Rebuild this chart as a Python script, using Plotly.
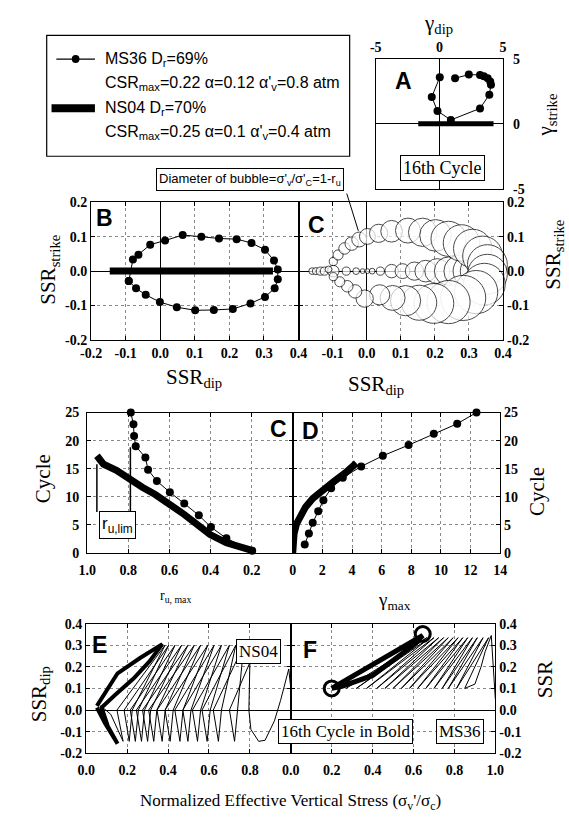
import plotly.graph_objects as go

W, H = 569, 828
SERIF = "Liberation Serif"
SANS = "Liberation Sans"

# ---------------- data ----------------
# Panel A: 16th cycle shear strain path (%)
a_ms36_gdip = [1.23, 2.31, 3.19, 3.49, 3.79, 3.99, 4.05, 3.92, 3.19, 0.90, -0.15, -0.60, 0.03]
a_ms36_gstr = [3.52, 3.80, 3.77, 3.67, 3.52, 3.27, 3.01, 2.25, 1.19, 0.30, 0.99, 2.08, 3.59]
a_ns04_gdip = [-1.66, 4.25]
a_ns04_gstr = [0.0, 0.0]

# Panel B: stress ratio path, 16th cycle
b_ms36_dip = [-0.091, -0.070, -0.042, -0.001, 0.048, 0.101, 0.155, 0.210, 0.261, 0.303, 0.331, 0.340,
              0.340, 0.329, 0.303, 0.264, 0.221, 0.170, 0.119, 0.065, 0.014, -0.029, -0.063, -0.079, -0.091]
b_ms36_str = [-0.029, -0.050, -0.069, -0.090, -0.105, -0.114, -0.113, -0.110, -0.094, -0.075, -0.050, -0.024,
              0.005, 0.031, 0.062, 0.082, 0.093, 0.095, 0.100, 0.105, 0.089, 0.077, 0.048, 0.034, -0.029]
b_ns04_dip = [-0.146, 0.326]
b_ns04_str = [0.0, 0.0]

# Panel C (top): bubbles, diameter = 1 - r_u
c_ms36_dip = [-0.112, -0.098, -0.084, -0.065, -0.044, -0.022, 0.002, 0.035, 0.073, 0.121,
              0.164, 0.202, 0.240, 0.278, 0.311, 0.340, 0.354,
              0.354, 0.345, 0.321, 0.283, 0.240, 0.197, 0.154, 0.114, 0.076, 0.038,
              -0.006, -0.034, -0.057, -0.079, -0.098]
c_ms36_str = [0.005, 0.028, 0.047, 0.066, 0.080, 0.092, 0.101, 0.110, 0.116, 0.118,
              0.113, 0.104, 0.094, 0.082, 0.066, 0.044, 0.019,
              -0.009, -0.038, -0.061, -0.078, -0.090, -0.094, -0.092, -0.086, -0.078, -0.069,
              -0.080, -0.059, -0.044, -0.031, -0.016]
c_ms36_size = [0.14, 0.17, 0.21, 0.24, 0.28, 0.31, 0.33, 0.38, 0.45, 0.52,
               0.59, 0.66, 0.73, 0.76, 0.80, 0.83, 0.83,
               0.83, 0.87, 0.90, 0.94, 0.90, 0.83, 0.73, 0.63, 0.52, 0.42,
               0.36, 0.28, 0.24, 0.21, 0.17]
c_ns04_dip = [-0.160, -0.149, -0.136, -0.124, -0.098, -0.060, -0.031, -0.012, 0.002, 0.016,
              0.040, 0.073, 0.105, 0.140, 0.173, 0.207, 0.240, 0.273, 0.302, 0.326]
c_ns04_str = [0.0, 0.0, 0.0, 0.0, 0.0, 0.0, 0.0, 0.0, 0.0, 0.0,
              0.0, 0.0, 0.0, 0.0, 0.0, 0.0, 0.0, 0.0, 0.0, 0.0]
c_ns04_size = [0.14, 0.15, 0.17, 0.17, 0.24, 0.17, 0.14, 0.10, 0.10, 0.12,
               0.17, 0.28, 0.31, 0.38, 0.45, 0.52, 0.59, 0.66, 0.69, 0.73]

# Panel C (bottom): r_u,max vs cycle
cb_ms36_ru = [0.197, 0.323, 0.398, 0.457, 0.528, 0.598, 0.661, 0.704, 0.717, 0.764, 0.772, 0.775, 0.788]
cb_ms36_cyc = [0.4, 2.6, 4.6, 6.7, 8.8, 10.8, 12.8, 14.8, 17.0, 19.0, 20.8, 22.9, 25.0]
cb_ns04_ru = [0.953, 0.921, 0.858, 0.795, 0.732, 0.669, 0.598, 0.528, 0.465, 0.402, 0.323, 0.244, 0.194]
cb_ns04_cyc = [17.3, 15.8, 14.7, 13.1, 11.7, 10.4, 8.75, 6.85, 5.06, 3.27, 1.8, 0.9, 0.4]
ru_lim = [0.953, 0.79]
ru_lim_top = [15.8, 18.8]
ru_lim_bot = [7.3, 7.3]

# Panel D: gamma_max vs cycle
d_ms36_g = [0.81, 1.09, 1.35, 1.72, 2.07, 2.59, 3.38, 4.62, 6.08, 7.82, 9.52, 11.1, 12.4]
d_ms36_cyc = [1.5, 3.45, 5.36, 7.44, 9.4, 11.5, 13.4, 15.4, 17.3, 19.2, 21.2, 23.0, 25.0]
d_ns04_g = [0.0, 0.0, 0.09, 0.26, 0.52, 0.87, 1.35, 2.0, 2.77, 3.53, 4.29]
d_ns04_cyc = [0.0, 1.7, 3.45, 5.2, 6.7, 8.2, 9.7, 11.2, 12.7, 14.2, 16.0]

# Panel E: NS04 stress path
e_thin_x = [1.0, 0.99, 0.95, 0.92, 0.874, 0.843, 0.805, 0.795, 0.80,
            0.70, 0.725, 0.74, 0.77,
            0.621, 0.646, 0.661, 0.731,
            0.566, 0.591, 0.606, 0.70,
            0.519, 0.544, 0.559, 0.661,
            0.472, 0.497, 0.512, 0.625,
            0.433, 0.458, 0.473, 0.594,
            0.385, 0.41, 0.425, 0.559,
            0.346, 0.371, 0.386, 0.528,
            0.305, 0.33, 0.345, 0.497,
            0.275, 0.30, 0.315, 0.466,
            0.245, 0.27, 0.285, 0.434,
            0.215, 0.24, 0.255, 0.403,
            0.185, 0.21, 0.225, 0.385,
            0.15, 0.18, 0.12, 0.07]
e_thin_y = [0.10, 0.19, 0.045, -0.05, -0.14, -0.145, -0.09, 0.0, 0.22,
            0.0, -0.145, 0.0, 0.30,
            0.0, -0.145, 0.0, 0.30,
            0.0, -0.145, 0.0, 0.30,
            0.0, -0.145, 0.0, 0.30,
            0.0, -0.145, 0.0, 0.30,
            0.0, -0.145, 0.0, 0.30,
            0.0, -0.145, 0.0, 0.30,
            0.0, -0.145, 0.0, 0.30,
            0.0, -0.145, 0.0, 0.30,
            0.0, -0.145, 0.0, 0.30,
            0.0, -0.145, 0.0, 0.30,
            0.0, -0.145, 0.0, 0.30,
            0.0, -0.145, 0.0, 0.30,
            0.0, -0.145, -0.02, 0.02]
e_bold_x = [0.052, 0.153, 0.263, 0.372, 0.309, 0.231, 0.138, 0.075, 0.106, 0.153, 0.091, 0.052]
e_bold_y = [0.019, 0.170, 0.241, 0.305, 0.225, 0.146, 0.067, 0.011, -0.076, -0.156, -0.060, 0.011]

# Panel F: MS36 stress path
f_thin_x = [1.0, 0.99, 0.98, 0.95, 0.93, 0.90, 0.85,
            0.967, 0.81, 0.94, 0.77, 0.912, 0.74, 0.888, 0.70, 0.865, 0.66, 0.841, 0.62,
            0.818, 0.58, 0.794, 0.54, 0.77, 0.50, 0.747, 0.46, 0.723, 0.42, 0.70, 0.37,
            0.68, 0.32, 0.665, 0.27]
f_thin_y = [0.05, 0.20, 0.345, 0.27, 0.20, 0.12, 0.10,
            0.335, 0.10, 0.335, 0.10, 0.335, 0.10, 0.335, 0.10, 0.335, 0.10, 0.335, 0.10,
            0.335, 0.10, 0.335, 0.10, 0.335, 0.10, 0.335, 0.10, 0.335, 0.10, 0.335, 0.10,
            0.335, 0.10, 0.335, 0.10]
f_bold_x = [0.20, 0.645, 0.60, 0.40, 0.25, 0.20]
f_bold_y = [0.10, 0.345, 0.30, 0.16, 0.11, 0.10]
f_end_x = [0.20, 0.645]
f_end_y = [0.10, 0.352]

# tick values / labels
ssr_ticks = [-0.2, -0.1, 0.0, 0.1, 0.2, 0.3, 0.4]
ssr_labels = ["-0.2", "-0.1", "0.0", "0.1", "0.2", "0.3", "0.4"]
gam_ticks = [-5, 0, 5]
gam_labels = ["-5", "0", "5"]
ru_ticks = [1.0, 0.8, 0.6, 0.4, 0.2]
ru_labels = ["1.0", "0.8", "0.6", "0.4", "0.2"]
cyc_ticks = [0, 5, 10, 15, 20, 25]
cyc_labels = ["0", "5", "10", "15", "20", "25"]
gmax_ticks = [0, 2, 4, 6, 8, 10, 12, 14]
gmax_labels = ["0", "2", "4", "6", "8", "10", "12", "14"]
sv_ticks = [0.0, 0.2, 0.4, 0.6, 0.8, 1.0]
sv_labels = ["0.0", "0.2", "0.4", "0.6", "0.8", "1.0"]

# ---------------- helpers ----------------
def dx(l, r):
    return [l / W, r / W]

def dy(t, b):
    return [1 - b / H, 1 - t / H]

def bold(labels):
    return ["<b>%s</b>" % t for t in labels]

TICKFONT = dict(family=SERIF, size=14, color="black")

def axis(**kw):
    base = dict(showline=True, mirror="ticks", linecolor="black", linewidth=1.2,
                ticks="inside", ticklen=4, tickcolor="black", tickwidth=1,
                tickfont=TICKFONT, showgrid=True, gridcolor="#8a8a8a",
                griddash="dot", gridwidth=1, zeroline=False, fixedrange=True,
                tickmode="array")
    base.update(kw)
    if "ticktext" in base:
        base["ticktext"] = bold(base["ticktext"])
    return base

ZL = dict(zeroline=True, zerolinecolor="black", zerolinewidth=1)

fig = go.Figure()

def line_tr(x, y, xa, ya, width=1, mode="lines", msize=0):
    fig.add_trace(go.Scatter(x=x, y=y, xaxis=xa, yaxis=ya, mode=mode,
                             line=dict(color="black", width=width),
                             marker=dict(color="black", size=msize),
                             showlegend=False, cliponaxis=False, hoverinfo="skip"))

# A
line_tr(a_ns04_gdip, a_ns04_gstr, "x", "y", width=5)
line_tr(a_ms36_gdip, a_ms36_gstr, "x", "y", width=1, mode="lines+markers", msize=8)
# B
line_tr(b_ns04_dip, b_ns04_str, "x2", "y2", width=7)
line_tr(b_ms36_dip, b_ms36_str, "x2", "y2", width=1, mode="lines+markers", msize=8)
# C top: bubbles
for xs, ys, ss in [(c_ns04_dip, c_ns04_str, c_ns04_size), (c_ms36_dip, c_ms36_str, c_ms36_size)]:
    fig.add_trace(go.Scatter(x=xs, y=ys, xaxis="x3", yaxis="y3", mode="markers",
                             marker=dict(size=ss, sizemode="diameter", sizeref=1 / 48,
                                         color="white", line=dict(color="black", width=1)),
                             showlegend=False, cliponaxis=False, hoverinfo="skip"))
# C bottom
line_tr(cb_ns04_ru, cb_ns04_cyc, "x4", "y4", width=7)
line_tr(cb_ms36_ru, cb_ms36_cyc, "x4", "y4", width=1, mode="lines+markers", msize=8)
# D
line_tr(d_ns04_g, d_ns04_cyc, "x5", "y5", width=7)
line_tr(d_ms36_g, d_ms36_cyc, "x5", "y5", width=1, mode="lines+markers", msize=8)
# E
fig.add_trace(go.Scatter(x=e_thin_x, y=e_thin_y, xaxis="x6", yaxis="y6", mode="lines",
                         line=dict(color="black", width=1), showlegend=False, hoverinfo="skip"))
fig.add_trace(go.Scatter(x=e_bold_x, y=e_bold_y, xaxis="x6", yaxis="y6", mode="lines",
                         line=dict(color="black", width=4), showlegend=False, hoverinfo="skip"))
# F
fig.add_trace(go.Scatter(x=f_thin_x, y=f_thin_y, xaxis="x7", yaxis="y7", mode="lines",
                         line=dict(color="black", width=1), showlegend=False, hoverinfo="skip"))
fig.add_trace(go.Scatter(x=f_bold_x, y=f_bold_y, xaxis="x7", yaxis="y7", mode="lines",
                         line=dict(color="black", width=5), showlegend=False, hoverinfo="skip"))
fig.add_trace(go.Scatter(x=f_end_x, y=f_end_y, xaxis="x7", yaxis="y7", mode="markers",
                         marker=dict(symbol="circle-open", size=15, color="black",
                                     line=dict(color="black", width=3)),
                         showlegend=False, cliponaxis=False, hoverinfo="skip"))

fig.update_layout(
    width=W, height=H, margin=dict(l=0, r=0, t=0, b=0),
    font=dict(family=SERIF, size=14, color="black"),
    paper_bgcolor="white", plot_bgcolor="white", showlegend=False,
    # A
    xaxis=axis(domain=dx(378, 510), range=[-5, 5], anchor="y", side="top",
               tickvals=gam_ticks, ticktext=gam_labels, showgrid=False, ticks="", **ZL),
    yaxis=axis(domain=dy(53, 185), range=[-5, 5], anchor="x", side="right",
               tickvals=gam_ticks, ticktext=gam_labels, showgrid=False, ticks="",
               ticklabelstandoff=6, **ZL),
    # B
    xaxis2=axis(domain=dx(83, 298), range=[-0.2, 0.4], anchor="y2",
                tickvals=ssr_ticks, ticktext=ssr_labels, **ZL),
    yaxis2=axis(domain=dy(199, 339), range=[-0.2, 0.2], anchor="x2",
                tickvals=ssr_ticks[:5], ticktext=ssr_labels[:5], **ZL),
    # C top
    xaxis3=axis(domain=dx(298, 510), range=[-0.2, 0.4], anchor="y3",
                tickvals=ssr_ticks[1:], ticktext=ssr_labels[1:], **ZL),
    yaxis3=axis(domain=dy(199, 339), range=[-0.2, 0.2], anchor="x3", side="right",
                tickvals=ssr_ticks[:5], ticktext=ssr_labels[:5], **ZL),
    # C bottom
    xaxis4=axis(domain=dx(79, 292), range=[1.0, 0.0], anchor="y4", ticklabelstandoff=4,
                tickvals=ru_ticks, ticktext=ru_labels),
    yaxis4=axis(domain=dy(413, 556), range=[0, 25], anchor="x4", ticklabelstandoff=4,
                tickvals=cyc_ticks, ticktext=cyc_labels),
    # D
    xaxis5=axis(domain=dx(292, 507), range=[0, 14], anchor="y5", ticklabelstandoff=4,
                tickvals=gmax_ticks, ticktext=gmax_labels),
    yaxis5=axis(domain=dy(413, 556), range=[0, 25], anchor="x5", side="right",
                tickvals=cyc_ticks, ticktext=cyc_labels),
    # E
    xaxis6=axis(domain=dx(78, 290), range=[0, 1], anchor="y6", ticklabelstandoff=4,
                tickvals=sv_ticks[:5], ticktext=sv_labels[:5]),
    yaxis6=axis(domain=dy(628, 760), range=[-0.2, 0.4], anchor="x6",
                tickvals=ssr_ticks, ticktext=ssr_labels, **ZL),
    # F
    xaxis7=axis(domain=dx(290, 502), range=[0, 1], anchor="y7", ticklabelstandoff=4,
                tickvals=sv_ticks, ticktext=sv_labels),
    yaxis7=axis(domain=dy(628, 760), range=[-0.2, 0.4], anchor="x7", side="right",
                tickvals=ssr_ticks, ticktext=ssr_labels, **ZL),
)

anns = []

def ann(text, x, y, size=20, family=SERIF, angle=0, xanchor="center", box=False, isbold=False):
    d = dict(text=("<b>%s</b>" % text) if isbold else text, x=x / W, y=1 - y / H,
             xref="paper", yref="paper", showarrow=False, xanchor=xanchor, yanchor="middle",
             textangle=angle, font=dict(family=family, size=size, color="black"))
    if box:
        d.update(bordercolor="black", borderwidth=1, borderpad=2, bgcolor="white")
    anns.append(d)

# axis titles
ann("γ<sub>dip</sub>", 443, 17, 21)
ann("γ<sub>strike</sub>", 555, 110, 21, angle=-90)
ann("SSR<sub>strike</sub>", 40, 268, 21, angle=-90)
ann("SSR<sub>dip</sub>", 190, 378, 21)
ann("SSR<sub>dip</sub>", 378, 385, 21)
ann("SSR<sub>strike</sub>", 563, 252, 21, angle=-90)
ann("Cycle", 33, 480, 21, angle=-90)
ann("Cycle", 545, 493, 21, angle=-90)
ann("r<sub>u, max</sub>", 170, 600, 14)
ann("γ<sub>max</sub>", 397, 605, 19)
ann("SSR<sub>dip</sub>", 30, 700, 21, angle=-90)
ann("SSR", 553, 685, 21, angle=-90)
ann("Normalized Effective Vertical Stress (σ<sub>v</sub>'/σ<sub>c</sub>)", 290, 810, 17)

# panel letters
for t, x, y in [("A", 407, 75), ("B", 97, 215), ("C", 317, 222), ("C", 277, 430),
                ("D", 310, 432), ("E", 92, 650), ("F", 310, 655)]:
    ann(t, x, y, 23, family=SANS, isbold=True)

# boxed labels
ann("16th Cycle", 447, 164, 18, box=True)
ann("NS04", 256, 656, 17, box=True)
ann("16th Cycle in Bold", 347, 738, 17, box=True)
ann("MS36", 465, 738, 17, box=True)
ann("r<sub>u,lim</sub>", 110, 528, 17, family=SANS, box=True)
ann("Diameter of bubble=σ'<sub>v</sub>/σ'<sub>C</sub>=1-r<sub>u</sub>", 248, 176, 13, family=SANS, box=True)

# legend text
ann("MS36 D<sub>r</sub>=69%", 95, 53, 16, family=SANS, xanchor="left")
ann("CSR<sub>max</sub>=0.22 α=0.12 α'<sub>v</sub>=0.8 atm", 95, 78, 16, family=SANS, xanchor="left")
ann("NS04 D<sub>r</sub>=70%", 95, 103, 16, family=SANS, xanchor="left")
ann("CSR<sub>max</sub>=0.25 α=0.1 α'<sub>v</sub>=0.4 atm", 95, 128, 16, family=SANS, xanchor="left")

shapes = []

def pline(x0, y0, x1, y1, w=1):
    shapes.append(dict(type="line", xref="paper", yref="paper", x0=x0 / W, y0=1 - y0 / H,
                       x1=x1 / W, y1=1 - y1 / H, line=dict(color="black", width=w)))

# legend box and symbols
shapes.append(dict(type="rect", xref="paper", yref="paper", x0=37 / W, x1=351 / W,
                   y0=1 - 152 / H, y1=1 - 29 / H, line=dict(color="black", width=1.2)))
pline(47, 53, 87, 53, 1.2)
shapes.append(dict(type="circle", xref="paper", yref="paper", x0=63 / W, x1=71 / W,
                   y0=1 - 57 / H, y1=1 - 49 / H, fillcolor="black", line=dict(color="black", width=0)))
pline(42, 103, 87, 103, 8)
# leader line to bubble
pline(348, 190, 360, 228, 1)
# r_u,lim markers
for xv, yt, yb in zip(ru_lim, ru_lim_top, ru_lim_bot):
    shapes.append(dict(type="line", xref="x4", yref="y4", x0=xv, x1=xv, y0=yb, y1=yt,
                       line=dict(color="black", width=1.5)))

fig.update_layout(annotations=anns, shapes=shapes)
fig.write_html("out.html")
